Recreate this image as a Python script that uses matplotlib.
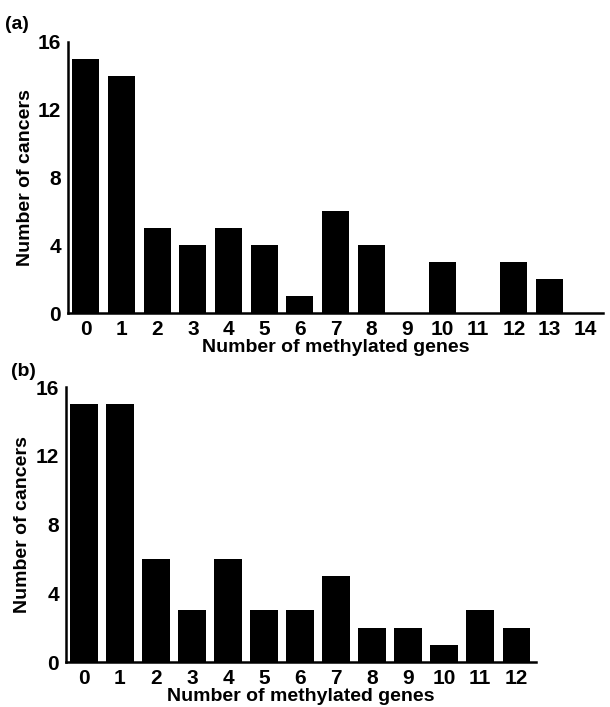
import matplotlib
matplotlib.use("Agg")
from matplotlib import pyplot as plt

# panel (a)
genes_a = list(range(15))
cancers_a = [15, 14, 5, 4, 5, 4, 1, 6, 4, 0, 3, 0, 3, 2, 0]
# panel (b)
genes_b = list(range(13))
cancers_b = [15, 15, 6, 3, 6, 3, 3, 5, 2, 2, 1, 3, 2]
yticks = [0, 4, 8, 12, 16]

plt.rcParams['font.family'] = ['Liberation Sans', 'DejaVu Sans']
plt.rcParams['font.weight'] = 'bold'

fig = plt.figure(figsize=(6.1, 7.07), dpi=100)
axa = fig.add_axes([0.1115, 0.557, 0.877, 0.3836])
axb = fig.add_axes([0.108, 0.0636, 0.7707, 0.389])


def style(ax, x, y, xmax):
    ax.bar(x, y, width=0.76, color='black')
    ax.set_xlim(-0.5, xmax)
    ax.set_ylim(0, 16)
    ax.set_xticks(x)
    ax.set_yticks(yticks)
    for s in ['top', 'right']:
        ax.spines[s].set_visible(False)
    for s in ['left', 'bottom']:
        ax.spines[s].set_linewidth(1.8)
    ax.tick_params(axis='both', length=0, labelsize=15, pad=5)
    for t in ax.get_xticklabels() + ax.get_yticklabels():
        t.set_fontweight('bold')
    ax.set_ylabel('Number of cancers', fontsize=14, fontweight='bold', labelpad=3)
    ax.set_xlabel('Number of methylated genes', fontsize=14, fontweight='bold', labelpad=0)


style(axa, genes_a, cancers_a, 14.5)
style(axb, genes_b, cancers_b, 12.55)

fig.text(0.008, 0.965, '(a)', fontsize=14, fontweight='bold', va='center')
fig.text(0.018, 0.474, '(b)', fontsize=14, fontweight='bold', va='center')

plt.savefig('out.png', dpi=100)
